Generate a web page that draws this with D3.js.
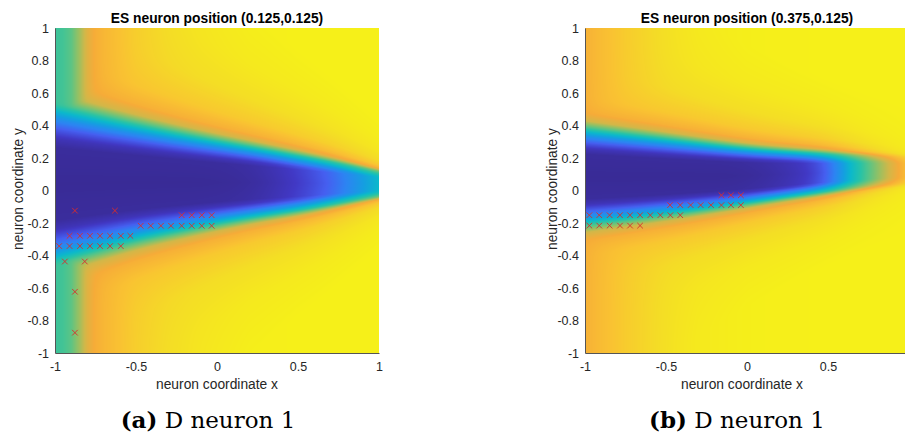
<!DOCTYPE html>
<html>
<head>
<meta charset="utf-8">
<script src="https://cdn.jsdelivr.net/npm/d3@7"></script>
<style>
  html, body { margin: 0; padding: 0; background: #fff; overflow: hidden; }
  svg { display: block; }
</style>
</head>
<body>
<svg id="fig" width="905" height="438"></svg>
<script>
// ---- axis ticks ----
const xTicks = [-1, -0.5, 0, 0.5, 1];
const yTicks = [-1, -0.8, -0.6, -0.4, -0.2, 0, 0.2, 0.4, 0.6, 0.8, 1];

// ---- titles and captions ----
const titles = ["ES neuron position (0.125,0.125)", "ES neuron position (0.375,0.125)"];
const captionTags = ["(a)", "(b)"];
const captionTexts = ["D neuron 1", "D neuron 1"];
const xLabel = "neuron coordinate x";
const yLabel = "neuron coordinate y";

// ---- colour map (parula-like) ----
const parulaStops  = [0, 0.07, 0.14, 0.2, 0.27, 0.33, 0.42, 0.5, 0.58, 0.66, 0.74, 0.82, 0.9, 1];
const parulaColors = ["#392b96", "#4138c4", "#455ff0", "#2c84f2", "#149fe0", "#0bb8cb", "#28c3a6",
                      "#5cc484", "#97c062", "#d2b748", "#f6ab38", "#f9c232", "#f4dc26", "#f6f516"];

// ---- response field: band profile sampled along x ----
const profileX = [-1, -0.75, -0.5, -0.25, 0, 0.25, 0.5, 0.75, 1];

// panel (a)
const bandCenterA = [0.040, 0.045, 0.050, 0.050, 0.050, 0.050, 0.045, 0.045, 0.040];
const bandWidthA  = [0.450, 0.390, 0.333, 0.285, 0.240, 0.200, 0.165, 0.125, 0.080];
const coreLevelA  = [0, 0, 0, 0, 0, 0.01, 0.07, 0.16, 0.33];
const edgeXA      = [-1, -0.95, -0.9, -0.85, -0.8, -0.75, -0.7, -0.6, -0.5, -0.3, -0.1, 0.2, 0.5, 1];
const edgeLevelA  = [0.45, 0.46, 0.50, 0.59, 0.69, 0.75, 0.78, 0.82, 0.86, 0.91, 0.95, 0.99, 1, 1];

// panel (b)
const bandCenterB = [0.085, 0.085, 0.085, 0.087, 0.090, 0.100, 0.110, 0.120, 0.125];
const bandWidthB  = [0.275, 0.248, 0.220, 0.190, 0.160, 0.135, 0.115, 0.095, 0.080];
const coreLevelB  = [0, 0, 0, 0, 0, 0.03, 0.10, 0.50, 0.82];
const edgeXB      = [-1, -0.9, -0.75, -0.6, -0.45, -0.3, 0, 0.5, 1];
const edgeLevelB  = [0.76, 0.80, 0.85, 0.89, 0.93, 0.96, 0.99, 1, 1];

// level as a function of normalised distance from the band centre
const profileU     = [0, 0.5, 0.62, 0.75, 0.88, 1.0, 1.12, 1.25, 1.45, 1.8, 2.5, 3.5, 5];
const profileLevel = [0, 0.01, 0.05, 0.13, 0.22, 0.33, 0.5, 0.66, 0.76, 0.84, 0.91, 0.96, 1];

// ---- detected positions (red crosses) ----
const markersA = [
  [-0.877, -0.124], [-0.630, -0.124],
  [-0.218, -0.152], [-0.156, -0.152], [-0.094, -0.152], [-0.033, -0.152],
  [-0.471, -0.217], [-0.409, -0.217], [-0.346, -0.217], [-0.284, -0.217],
  [-0.218, -0.217], [-0.156, -0.217], [-0.094, -0.217], [-0.033, -0.217],
  [-0.910, -0.279], [-0.846, -0.279], [-0.784, -0.279], [-0.722, -0.279],
  [-0.660, -0.279], [-0.594, -0.279], [-0.535, -0.279],
  [-0.974, -0.342], [-0.910, -0.342], [-0.846, -0.342], [-0.784, -0.342],
  [-0.722, -0.342], [-0.660, -0.342], [-0.594, -0.342],
  [-0.939, -0.437], [-0.816, -0.437],
  [-0.877, -0.623], [-0.877, -0.875]
];
const markersB = [
  [-0.158, -0.029], [-0.099, -0.029], [-0.038, -0.029],
  [-0.475, -0.090], [-0.412, -0.090], [-0.348, -0.090], [-0.286, -0.090],
  [-0.222, -0.090], [-0.158, -0.090], [-0.099, -0.090], [-0.038, -0.090],
  [-0.973, -0.152], [-0.912, -0.152], [-0.848, -0.152], [-0.784, -0.152], [-0.722, -0.152],
  [-0.660, -0.152], [-0.597, -0.152], [-0.535, -0.152], [-0.473, -0.152], [-0.412, -0.152],
  [-0.973, -0.216], [-0.912, -0.216], [-0.848, -0.216], [-0.784, -0.216],
  [-0.722, -0.216], [-0.660, -0.216]
];

// ---- layout ----
const W = 905;
const panels = [
  { left: 55,  top: 28, w: 324, h: 325, title: titles[0], tag: captionTags[0], cap: captionTexts[0],
    center: bandCenterA, width: bandWidthA, core: coreLevelA, edgeX: edgeXA, edge: edgeLevelA,
    markers: markersA, yLabelX: 23, xLabelX: 217, capX: 208 },
  { left: 585, top: 28, w: 324, h: 325, title: titles[1], tag: captionTags[1], cap: captionTexts[1],
    center: bandCenterB, width: bandWidthB, core: coreLevelB, edgeX: edgeXB, edge: edgeLevelB,
    markers: markersB, yLabelX: 557, xLabelX: 742, capX: 737 }
];

const svg = d3.select("#fig");
const colour = d3.scaleLinear().domain(parulaStops).range(parulaColors)
  .interpolate(d3.interpolateRgb).clamp(true);
const lut = d3.range(1024).map(i => d3.rgb(colour(i / 1023)));
const profile = d3.scaleLinear().domain(profileU).range(profileLevel).clamp(true);
const softMin = (a, b, k) => -k * Math.log(Math.exp(-a / k) + Math.exp(-b / k));
const fmt = d => String(Math.round(d * 10) / 10);

panels.forEach(p => {
  const x = d3.scaleLinear().domain([-1, 1]).range([p.left, p.left + p.w]);
  const y = d3.scaleLinear().domain([-1, 1]).range([p.top + p.h, p.top]);

  const cen = d3.interpolateBasis(p.center);
  const wid = d3.interpolateBasis(p.width);
  const core = d3.interpolateBasis(p.core);
  const edge = d3.scaleLinear().domain(p.edgeX).range(p.edge).clamp(true);

  // raster of the field over the plot area
  const canvas = document.createElement("canvas");
  canvas.width = p.w; canvas.height = p.h;
  const ctx = canvas.getContext("2d");
  const img = ctx.createImageData(p.w, p.h);
  for (let i = 0; i < p.w; i++) {
    const xv = x.invert(p.left + i + 0.5);
    const s = (xv + 1) / 2;
    const c = cen(s), hw = wid(s), m = Math.max(0, Math.min(1, core(s))), g = edge(xv);
    for (let j = 0; j < p.h; j++) {
      const yv = y.invert(p.top + j + 0.5);
      const u = Math.abs(yv - c) / hw;
      const a = m + (1 - m) * profile(u);
      let t = softMin(a, g, 0.03);
      t = Math.max(0, Math.min(1, t));
      const col = lut[Math.round(t * 1023)];
      const k = (j * p.w + i) * 4;
      img.data[k] = col.r; img.data[k + 1] = col.g; img.data[k + 2] = col.b; img.data[k + 3] = 255;
    }
  }
  ctx.putImageData(img, 0, 0);
  svg.append("image")
    .attr("x", p.left).attr("y", p.top)
    .attr("width", p.w).attr("height", p.h)
    .attr("preserveAspectRatio", "none")
    .attr("href", canvas.toDataURL());

  // axes (left and bottom only); ticks past the page edge are dropped
  const visibleX = xTicks.filter(v => x(v) < W - 4);
  const gx = svg.append("g").attr("transform", `translate(0,${p.top + p.h})`)
    .call(d3.axisBottom(x).tickValues(visibleX).tickFormat(fmt).tickSize(0).tickSizeOuter(0).tickPadding(9));
  const gy = svg.append("g").attr("transform", `translate(${p.left},0)`)
    .call(d3.axisLeft(y).tickValues(yTicks).tickFormat(fmt).tickSize(0).tickSizeOuter(0).tickPadding(6));
  [gx, gy].forEach(g => {
    g.select(".domain").attr("stroke", "#555").attr("stroke-width", 1);
    g.selectAll("text").attr("fill", "#262626")
      .style("font-family", "'Liberation Sans', Arial, sans-serif").style("font-size", "12.5px");
  });

  // red crosses
  const r = 2.8;
  svg.append("g").selectAll("path").data(p.markers).join("path")
    .attr("d", d => {
      const cx = x(d[0]), cy = y(d[1]);
      return `M${cx - r},${cy - r}L${cx + r},${cy + r}M${cx - r},${cy + r}L${cx + r},${cy - r}`;
    })
    .attr("stroke", "#dc2b2b").attr("stroke-width", 1).attr("fill", "none").attr("opacity", 0.9);

  // title and axis labels
  svg.append("text").attr("x", x(0)).attr("y", 23).attr("text-anchor", "middle")
    .style("font-family", "'Liberation Sans', Arial, sans-serif").style("font-size", "13.8px")
    .style("font-weight", "bold").attr("fill", "#000").text(p.title);
  svg.append("text").attr("x", p.xLabelX).attr("y", 389).attr("text-anchor", "middle")
    .style("font-family", "'Liberation Sans', Arial, sans-serif").style("font-size", "13.8px")
    .attr("fill", "#262626").text(xLabel);
  svg.append("text").attr("transform", `translate(${p.yLabelX},${189}) rotate(-90)`)
    .attr("text-anchor", "middle")
    .style("font-family", "'Liberation Sans', Arial, sans-serif").style("font-size", "13.8px")
    .attr("fill", "#262626").text(yLabel);

  // caption
  const cap = svg.append("text").attr("x", p.capX).attr("y", 428).attr("text-anchor", "middle")
    .style("font-family", "'DejaVu Serif', 'Liberation Serif', serif").style("font-size", "23px")
    .attr("fill", "#000");
  cap.append("tspan").style("font-weight", "bold").text(p.tag);
  cap.append("tspan").text("\u00a0" + p.cap);
});
</script>
</body>
</html>
